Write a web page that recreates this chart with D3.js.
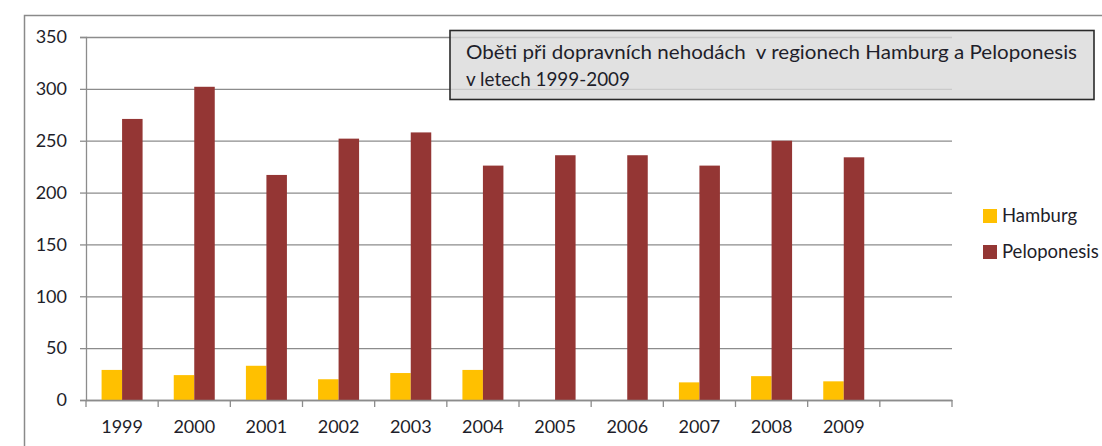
<!DOCTYPE html>
<html>
<head>
<meta charset="utf-8">
<script src="https://cdn.jsdelivr.net/npm/d3@7"></script>
<style>
    body { margin: 0; background: #fff; }
    svg text { font-family: Lato, "Open Sans", sans-serif; fill: #1e1e2a; }
</style>
</head>
<body>
<svg width="1102" height="446"></svg>
<script>
// data
var years = ["1999", "2000", "2001", "2002", "2003", "2004", "2005", "2006", "2007", "2008", "2009"];
var seriesNames = ["Hamburg", "Peloponesis"];
var hamburg = [29, 24, 33, 20, 26, 29, 0, 0, 17, 23, 18];
var peloponesis = [271, 302, 217, 252, 258, 226, 236, 236, 226, 250, 234];
var yTicks = [0, 50, 100, 150, 200, 250, 300, 350];
var colors = ["#ffc000", "#943634"];
var titleLines = ["Oběti při dopravních nehodách  v regionech Hamburg a Peloponesis", "v letech 1999-2009"];

var svg = d3.select("svg"),
    plotLeft = 86, plotRight = 952, plotTop = 37, plotBottom = 400;

// outer chart frame
svg.append("rect")
    .attr("x", 24.5).attr("y", 15.5)
    .attr("width", 1200).attr("height", 500)
    .attr("fill", "#fff").attr("stroke", "#8a8a8a").attr("stroke-width", 1.5);

// the chart has one empty slot after 2009
var slots = years.concat(["_empty"]);

var x = d3.scaleBand()
    .domain(slots)
    .range([plotLeft, plotRight]);

var barW = 20.5;
var xs = d3.scaleBand()
    .domain(seriesNames)
    .range([x.bandwidth() / 2 - barW, x.bandwidth() / 2 + barW]);

var y = d3.scaleLinear()
    .domain([0, 350])
    .range([plotBottom, plotTop]);

// gridlines
svg.append("g")
    .attr("transform", "translate(" + plotLeft + ",0)")
    .call(d3.axisLeft(y).tickValues(yTicks).tickSize(-(plotRight - plotLeft)).tickFormat(""))
    .call(function (g) {
        g.select(".domain").remove();
        g.selectAll("line").attr("stroke", "#8c8c8c").attr("stroke-width", 1.3);
    });

// y axis with labels
svg.append("g")
    .attr("transform", "translate(" + plotLeft + ",0)")
    .call(d3.axisLeft(y).tickValues(yTicks).tickSize(6).tickPadding(13))
    .call(function (g) {
        g.select(".domain").attr("stroke", "#8c8c8c").attr("stroke-width", 1.3);
        g.selectAll("line").attr("stroke", "#8c8c8c").attr("stroke-width", 1.3);
        g.selectAll("text").attr("font-size", 18).attr("fill", "#1e1e2a")
            .style("font-family", "Lato, sans-serif");
    });

// bars
var rows = years.map(function (yr, i) {
    return { year: yr, values: [hamburg[i], peloponesis[i]] };
});

var groups = svg.selectAll(".year")
    .data(rows)
    .enter().append("g")
    .attr("class", "year")
    .attr("transform", function (d) { return "translate(" + x(d.year) + ",0)"; });

groups.selectAll("rect")
    .data(function (d) {
        return d.values.map(function (v, k) { return { name: seriesNames[k], value: v, k: k }; });
    })
    .enter().append("rect")
    .filter(function (d) { return d.value > 0; })
    .attr("x", function (d) { return xs(d.name); })
    .attr("width", xs.bandwidth())
    .attr("y", function (d) { return y(d.value); })
    .attr("height", function (d) { return plotBottom - y(d.value); })
    .attr("fill", function (d) { return colors[d.k]; });

// x axis: labels under band centres, ticks on band edges
svg.append("g")
    .attr("transform", "translate(0," + plotBottom + ")")
    .call(d3.axisBottom(x).tickSize(0).tickPadding(20)
        .tickFormat(function (d) { return d === "_empty" ? "" : d; }))
    .call(function (g) {
        g.select(".domain").attr("stroke", "#8c8c8c").attr("stroke-width", 1.5);
        g.selectAll("text").attr("font-size", 18).attr("fill", "#1e1e2a")
            .style("font-family", "Lato, sans-serif");
    });

svg.append("g")
    .selectAll("line")
    .data(slots.concat(["_end"]))
    .enter().append("line")
    .attr("x1", function (d) { return d === "_end" ? plotRight : x(d); })
    .attr("x2", function (d) { return d === "_end" ? plotRight : x(d); })
    .attr("y1", plotBottom)
    .attr("y2", plotBottom + 7)
    .attr("stroke", "#8c8c8c")
    .attr("stroke-width", 1.3);

// title box
svg.append("rect")
    .attr("x", 450).attr("y", 30.5)
    .attr("width", 644).attr("height", 69)
    .attr("fill", "#d9d9d9").attr("fill-opacity", 0.8)
    .attr("stroke", "#2a2a2a").attr("stroke-width", 1.6);

svg.append("text")
    .attr("x", 466).attr("y", 59)
    .attr("font-size", 19)
    .attr("textLength", 611).attr("lengthAdjust", "spacingAndGlyphs")
    .style("white-space", "pre")
    .text(titleLines[0]);

svg.append("text")
    .attr("x", 466).attr("y", 86)
    .attr("font-size", 19)
    .attr("textLength", 164).attr("lengthAdjust", "spacingAndGlyphs")
    .text(titleLines[1]);

// legend
var legend = svg.append("g")
    .selectAll("g")
    .data(seriesNames)
    .enter().append("g")
    .attr("transform", function (d, i) { return "translate(983," + (209 + i * 36) + ")"; });

legend.append("rect")
    .attr("width", 14).attr("height", 14)
    .attr("fill", function (d, i) { return colors[i]; });

legend.append("text")
    .attr("x", 19).attr("y", 13)
    .attr("font-size", 18.5)
    .text(function (d) { return d; });
</script>
</body>
</html>
